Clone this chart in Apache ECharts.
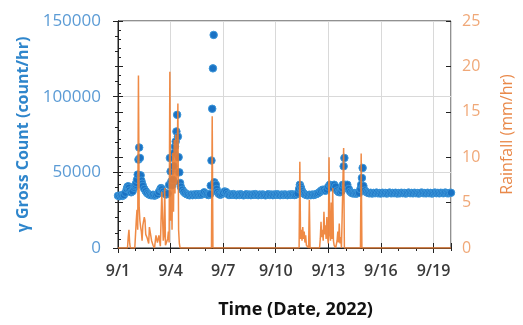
<!DOCTYPE html>
<html>
<head>
<meta charset="utf-8">
<script src="https://cdn.jsdelivr.net/npm/echarts@6/dist/echarts.min.js"></script>
<style>html,body{margin:0;padding:0;background:#fff}#c{width:523px;height:325px}</style>
</head>
<body>
<div id="c"></div>
<script>
// x values are hours since 9/1 00:00 (2022)
const xTickLabels = ['9/1','9/4','9/7','9/10','9/13','9/16','9/19'];
const leftTicks = [0, 50000, 100000, 150000];
const rightTicks = [0, 5, 10, 15, 20, 25];

// γ gross count (count/hr): [hour, value]
const grossCount = [
[0,34500],[2,34200],[4,34800],[6,34400],[8,35000],[10,36500],[12,39000],[13,40500],[14,40800],[15,39800],[16,38000],[18,36800],[20,37500],[22,39800],[23,41000],
[24,41800],[25,43000],[26,45100],[27,48500],[28,58400],[29,66400],[30,59500],[31,48000],[32,44500],[33,42500],[34,41000],[36,39000],[38,37500],[40,36200],[42,35500],[44,35000],[46,34800],
[48,35200],[50,34600],[52,35000],[54,35600],[56,37000],[58,38800],[59,39600],[60,38800],[62,37200],[64,36000],[66,35400],[68,36000],[70,41700],[71,59500],
[72,50600],[73,44000],[74,41500],[75,45000],[76,54000],[77,63000],[78,67000],[79,70400],[80,77000],[81,88000],[82,73600],[83,60000],[84,50000],[85,43000],[86,40500],[88,38500],[90,37200],[92,36200],[94,35600],
[96,35200],[98,34800],[100,35300],[102,34900],[104,35400],[106,35000],[108,35600],[110,35100],[112,35500],[114,35200],[116,35800],[118,36800],
[120,36000],[122,35400],[124,35000],[126,35600],[127,41200],[128,57800],[129,92000],[130,118700],[131,140800],[132,43400],[133,41800],[134,41800],[135,39000],[136,37000],[138,35800],[140,35200],[142,35600],
[144,36400],[146,37400],[148,37000],[150,35800],[152,35000],[154,35400],[156,35100],[158,35600],[160,35200],[162,34900],[164,35300],[166,35000],
[168,35500],[170,35100],[172,34800],[174,35200],[176,35500],[178,35000],[180,35300],[182,34900],[184,35400],[186,35100],[188,35600],[190,35200],
[192,34900],[194,35300],[196,35000],[198,35400],[200,35100],[202,34800],[204,35200],[206,35500],[208,35000],[210,35300],[212,34900],[214,35400],
[216,35100],[218,35500],[220,35200],[222,34900],[224,35300],[226,35000],[228,35400],[230,35200],[232,34900],[234,35300],[236,35100],[238,35500],
[240,35200],[242,35000],[244,35400],[246,36000],[248,39000],[249,41800],[250,40500],[251,39000],[252,37500],[254,36200],[256,35400],[258,35000],[260,34800],[262,35200],
[264,34900],[266,35300],[268,35000],[270,35400],[272,35700],[274,36200],[276,36800],[278,37800],[280,38500],[282,38500],[284,37800],[286,38600],
[288,40500],[290,41800],[292,41200],[294,40000],[296,41800],[298,40500],[300,38000],[302,37000],[304,36800],[306,37500],[307,39500],[308,41800],[309,54000],[310,59500],[311,41800],
[312,40000],[314,41800],[316,39000],[318,37200],[320,36400],[322,36000],[324,36300],[326,35900],[328,36200],[330,36400],[332,39000],[333,41800],[334,46300],[335,52900],
[336,41000],[338,38000],[340,37000],[342,36500],[344,36100],[346,36500],[348,36000],[350,36400],[352,36200],[354,36600],[356,36100],[358,36300],
[360,36000],[362,36500],[364,36200],[366,36400],[368,36000],[370,36300],[372,36600],[374,36100],[376,36400],[378,36200],[380,36500],[382,36000],
[384,36300],[386,36100],[388,36500],[390,36200],[392,36400],[394,36000],[396,36300],[398,36600],[400,36200],[402,36400],[404,36100],[406,36500],
[408,36200],[410,36300],[412,36000],[414,36400],[416,36600],[418,36200],[420,36300],[422,36100],[424,36500],[426,36200],[428,36400],[430,36000],
[432,36300],[434,36600],[436,36200],[438,36400],[440,36100],[442,36500],[444,36300],[446,36200],[448,36600],[450,36300],[452,36100],[454,36400],[456,36500]
];

// Rainfall (mm/hr): [hour, value]
const rainfall = [
[0,0],[13,0],[14,1.2],[15,2.0],[16,0.5],[17,0],[23,0],[24,1.5],[25,3.0],[26,4.2],[27,2.0],[28,19.0],[29,4.5],[30,3.0],[31,2.3],[32,1.8],[33,0.8],[34,2.5],[36,3.4],[37,3.0],
[38,1.5],[40,1.1],[42,0.5],[43,2.3],[45,2.3],[46,0.8],[48,0.3],[50,0],[52,1.4],[54,0.6],[56,1.4],[58,0.2],[60,6.2],[62,0.8],[63,1.4],[64,6.6],[65,0.3],[68,1.0],[69,1.8],[70,0.6],[71,19.4],
[72,3.0],[73,8.0],[74,2.0],[75,10.5],[76,4.0],[77,11.9],[78,6.0],[79,12.5],[80,7.0],[81,9.0],[82,15.9],[83,2.0],[84,0.5],[85,0],
[128,0],[129,14.5],[130,0],
[248,0],[249,9.5],[250,1.0],[251,2.0],[252,0.8],[253,2.3],[254,1.0],[255,1.8],[256,0.6],[257,1.4],[258,0.3],[261,0],[262,5.3],[263,0],
[276,0],[277,1.0],[278,2.9],[279,1.2],[280,2.0],[281,0.8],[282,4.0],[283,1.5],[284,2.5],[285,1.0],[286,3.4],[287,1.2],[288,0.5],[289,10.0],[290,1.5],[291,0.8],[292,5.0],[293,1.0],[294,6.6],[295,0.8],[296,0.3],[298,0],
[300,0.8],[301,1.8],[302,0.6],[303,2.7],[304,0.5],[305,1.2],[306,0],[308,0],[309,11.0],[310,0],[332,0],[333,10.4],[334,0],[456,0]
];

const FONT = '"Open Sans", "Liberation Sans", sans-serif';
const chart = echarts.init(document.getElementById('c'), null, {renderer: 'canvas'});
const xBase = {type: 'value', min: 0, max: 456, position: 'bottom', gridIndex: 0};
const tickStyle = {color: '#222', width: 1};
chart.setOption({
  animation: false,
  grid: {left: 118, right: 61, top: 21, bottom: 77, show: true, borderColor: '#222', borderWidth: 1},
  xAxis: [
    Object.assign({}, xBase, {
      interval: 72,
      name: 'Time (Date, 2022)', nameLocation: 'middle', nameGap: 53,
      nameTextStyle: {fontFamily: FONT, fontSize: 18, fontWeight: 'bold', color: '#111', padding: [0, 0, 0, 22]},
      axisLine: {show: true, onZero: false, lineStyle: {color: '#222'}},
      axisTick: {show: true, length: 5, lineStyle: tickStyle},
      axisLabel: {show: true, margin: 15, fontFamily: FONT, fontSize: 16, fontWeight: 600, color: '#3a3a3a', showMaxLabel: false,
        formatter: v => (v % 72 === 0 ? xTickLabels[v / 72] : '')},
      splitLine: {show: true, lineStyle: {color: '#d9d9d9', width: 1}}
    }),
    Object.assign({}, xBase, {
      interval: 24,
      axisLine: {show: false, onZero: false},
      axisTick: {show: true, length: 3, lineStyle: tickStyle},
      axisLabel: {show: false}, splitLine: {show: false}
    }),
    Object.assign({}, xBase, {
      interval: 72,
      axisLine: {show: false, onZero: false},
      axisTick: {show: true, inside: true, length: 5, lineStyle: tickStyle},
      axisLabel: {show: false}, splitLine: {show: false}
    })
  ],
  yAxis: [
    {
      type: 'value', position: 'left', min: 0, max: 150000, interval: 50000,
      name: 'γ Gross Count (count/hr)', nameLocation: 'middle', nameGap: 80,
      nameTextStyle: {fontFamily: FONT, fontSize: 16, fontWeight: 'bold', color: '#2f86cc'},
      axisLine: {show: true, lineStyle: {color: '#222'}},
      axisTick: {show: true, length: 5, lineStyle: tickStyle},
      minorTick: {show: true, splitNumber: 5, length: 3, lineStyle: {color: '#222'}},
      axisLabel: {margin: 17, fontFamily: FONT, fontSize: 17, color: '#5b9bd5',
        formatter: v => (leftTicks.indexOf(v) >= 0 ? String(v) : '')},
      splitLine: {show: true, lineStyle: {color: '#d9d9d9', width: 1}}
    },
    {
      type: 'value', position: 'right', min: 0, max: 25, interval: 5,
      name: 'Rainfall (mm/hr)', nameLocation: 'middle', nameGap: 48, nameRotate: 90,
      nameTextStyle: {fontFamily: FONT, fontSize: 16, color: '#e9894a'},
      axisLine: {show: true, lineStyle: {color: '#222'}},
      axisTick: {show: true, length: 5, lineStyle: tickStyle},
      minorTick: {show: true, splitNumber: 5, length: 3, lineStyle: {color: '#222'}},
      axisLabel: {margin: 11, fontFamily: FONT, fontSize: 16, color: '#f0a878',
        formatter: v => (rightTicks.indexOf(v) >= 0 ? String(v) : '')},
      splitLine: {show: false}
    },
    {
      type: 'value', position: 'left', min: 0, max: 150000, interval: 50000,
      axisLine: {show: false}, axisTick: {show: true, inside: true, length: 5, lineStyle: tickStyle},
      axisLabel: {show: false}, splitLine: {show: false}
    },
    {
      type: 'value', position: 'right', min: 0, max: 25, interval: 5,
      axisLine: {show: false}, axisTick: {show: true, inside: true, length: 5, lineStyle: tickStyle},
      axisLabel: {show: false}, splitLine: {show: false}
    }
  ],
  series: [
    {
      type: 'scatter', xAxisIndex: 0, yAxisIndex: 0, data: grossCount,
      symbol: 'circle', symbolSize: 7.5,
      itemStyle: {color: '#1a72c4', borderColor: '#3b95d8', borderWidth: 1, opacity: 1},
      z: 2
    },
    {
      type: 'line', xAxisIndex: 0, yAxisIndex: 1, data: rainfall,
      showSymbol: false, symbol: 'none',
      lineStyle: {color: '#ed7d31', width: 1.5, opacity: 0.9},
      z: 3
    }
  ]
});
</script>
</body>
</html>
